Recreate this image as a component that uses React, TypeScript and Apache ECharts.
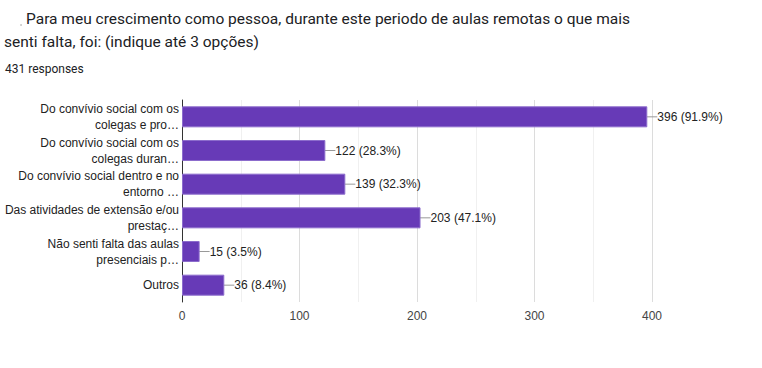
import React, { useEffect, useRef } from "react";
import * as echarts from "echarts";

const titleLines = [
  "Para meu crescimento como pessoa, durante este periodo de aulas remotas o que mais",
  "senti falta, foi: (indique até 3 opções)",
];
const subtitle = "431 responses";
const categories = [
  "Do convívio social com os\ncolegas e pro…",
  "Do convívio social com os\ncolegas duran…",
  "Do convívio social dentro e no\nentorno …",
  "Das atividades de extensão e/ou\nprestaç…",
  "Não senti falta das aulas\npresenciais p…",
  "Outros",
];
const counts = [396, 122, 139, 203, 15, 36];
const percents = ["91.9%", "28.3%", "32.3%", "47.1%", "3.5%", "8.4%"];

export default function App() {
  const ref = useRef<HTMLDivElement>(null);
  useEffect(() => {
    const chart = echarts.init(ref.current!, null, { renderer: "svg" });
    chart.setOption({
      animation: false,
      graphic: [
        { type: "circle", shape: { cx: 21, cy: 25, r: 0.8 }, style: { fill: "#bbb" } },
        {
          type: "text",
          x: 26,
          y: 19,
          style: { text: titleLines[0], font: "15.5px Roboto", fill: "#202124", verticalAlign: "middle" },
        },
        {
          type: "text",
          x: 4,
          y: 42,
          style: { text: titleLines[1], font: "15.5px Roboto", fill: "#202124", verticalAlign: "middle" },
        },
        {
          type: "text",
          x: 5,
          y: 69,
          style: { text: subtitle, font: "12px Roboto", fill: "#202124", verticalAlign: "middle" },
        },
      ],
      grid: { left: 182, right: 110, top: 100, bottom: 66 },
      xAxis: {
        type: "value",
        min: 0,
        max: 400,
        interval: 100,
        axisLine: { show: false },
        axisTick: { show: false },
        axisLabel: { color: "#444", fontFamily: "Liberation Sans", fontSize: 12, margin: 8 },
        splitLine: { show: true, lineStyle: { color: "#dcdcdc", width: 1 } },
        minorTick: { show: false, splitNumber: 2 },
        minorSplitLine: { show: true, lineStyle: { color: "#f0f0f0", width: 1 } },
      },
      yAxis: {
        type: "category",
        data: categories,
        inverse: true,
        axisLine: { show: true, onZero: false, lineStyle: { color: "#333", width: 1 } },
        axisTick: { show: false },
        axisLabel: {
          interval: 0,
          hideOverlap: false,
          color: "#222",
          fontFamily: "Liberation Sans",
          fontSize: 12,
          lineHeight: 16,
          align: "right",
          margin: 3,
        },
      },
      series: [
        {
          type: "bar",
          data: counts,
          barWidth: 21,
          itemStyle: { color: "#673ab7", borderColor: "#8c6ccc", borderWidth: 1 },
          label: {
            show: true,
            position: "right",
            distance: 0,
            color: "#222",
            fontFamily: "Liberation Sans",
            fontSize: 12,
            formatter: (p: any) => `${counts[p.dataIndex]} (${percents[p.dataIndex]})`,
          },
          labelLayout: { dx: 10 },
          labelLine: { show: true, lineStyle: { color: "#999", width: 1 } },
        },
      ],
    });
    return () => chart.dispose();
  }, []);
  return (
    <div
      ref={ref}
      style={{ position: "fixed", left: 0, top: 0, width: 762, height: 368, background: "#fff" }}
    />
  );
}
